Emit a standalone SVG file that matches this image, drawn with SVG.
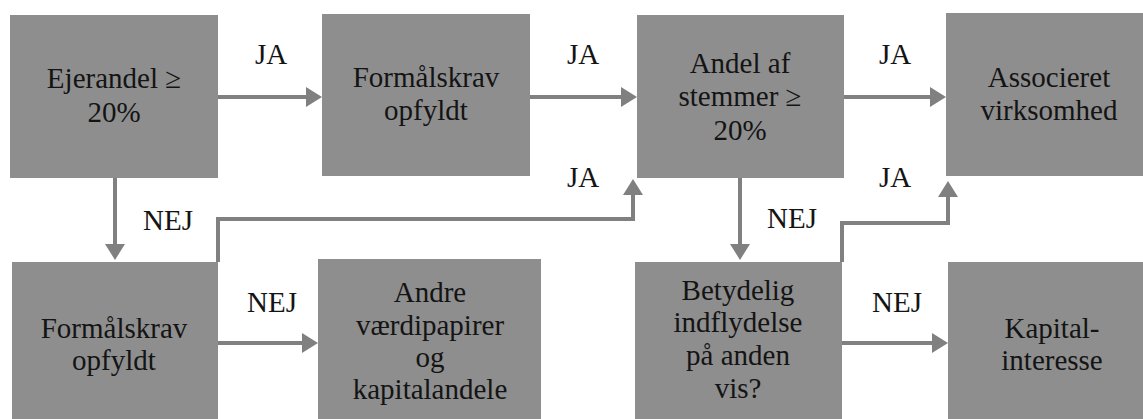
<svg xmlns="http://www.w3.org/2000/svg" width="1143" height="419" viewBox="0 0 1143 419">
<style>
.box{fill:#8e8e8e;stroke:none}
.c{fill:none;stroke:#808080;stroke-width:4}
</style>
<defs>
<marker id="ah" viewBox="0 0 16 20" refX="8" refY="10" markerWidth="16" markerHeight="20" markerUnits="userSpaceOnUse" orient="auto">
<path d="M0,0 L16,10 L0,20 z" fill="#808080"/>
</marker>
</defs>
<rect width="1143" height="419" fill="#fff"/>
<g font-family="Liberation Serif, Times New Roman, serif" font-size="29" fill="#141414" text-anchor="middle">
<g id="connectors">
<path class="c" marker-end="url(#ah)" d="M218,97 H314"/>
<path class="c" marker-end="url(#ah)" d="M530,97 H629"/>
<path class="c" marker-end="url(#ah)" d="M844,97 H938"/>
<path class="c" marker-end="url(#ah)" d="M115,178 V252"/>
<path class="c" marker-end="url(#ah)" d="M218,262 V219 H633 V187"/>
<path class="c" marker-end="url(#ah)" d="M218,343 H310"/>
<path class="c" marker-end="url(#ah)" d="M740,178 V252"/>
<path class="c" marker-end="url(#ah)" d="M842,262 V223 H948 V189"/>
<path class="c" marker-end="url(#ah)" d="M842,343 H940"/>
<text x="271" y="64">JA</text>
<text x="583" y="64">JA</text>
<text x="895" y="64">JA</text>
<text x="583" y="187">JA</text>
<text x="895" y="187">JA</text>
<text x="168" y="230">NEJ</text>
<text x="792" y="228">NEJ</text>
<text x="272" y="312">NEJ</text>
<text x="897" y="312">NEJ</text>
</g>
<g id="n1"><rect class="box" x="10" y="15" width="208" height="163"/>
<text x="114" y="88">Ejerandel ≥</text><text x="114" y="122">20%</text></g>
<g id="n2"><rect class="box" x="322" y="14" width="208" height="162"/>
<text x="426" y="87">Formålskrav</text><text x="426" y="120">opfyldt</text></g>
<g id="n3"><rect class="box" x="637" y="15" width="207" height="163"/>
<text x="740" y="73">Andel af</text><text x="740" y="106">stemmer ≥</text><text x="740" y="140">20%</text></g>
<g id="n4"><rect class="box" x="946" y="13" width="210" height="163"/>
<text x="1049" y="87">Associeret</text><text x="1049" y="120">virksomhed</text></g>
<g id="n5"><rect class="box" x="12" y="262" width="206" height="170"/>
<text x="114" y="338">Formålskrav</text><text x="114" y="370">opfyldt</text></g>
<g id="n6"><rect class="box" x="318" y="259" width="223" height="170"/>
<text x="430" y="302">Andre</text><text x="430" y="335">værdipapirer</text><text x="430" y="367">og</text><text x="430" y="399">kapitalandele</text></g>
<g id="n7"><rect class="box" x="635" y="262" width="207" height="170"/>
<text x="738" y="300">Betydelig</text><text x="738" y="332">indflydelse</text><text x="738" y="365">på anden</text><text x="738" y="398">vis?</text></g>
<g id="n8"><rect class="box" x="948" y="262" width="210" height="170"/>
<text x="1052" y="338">Kapital-</text><text x="1052" y="370">interesse</text></g>
</g>
</svg>
